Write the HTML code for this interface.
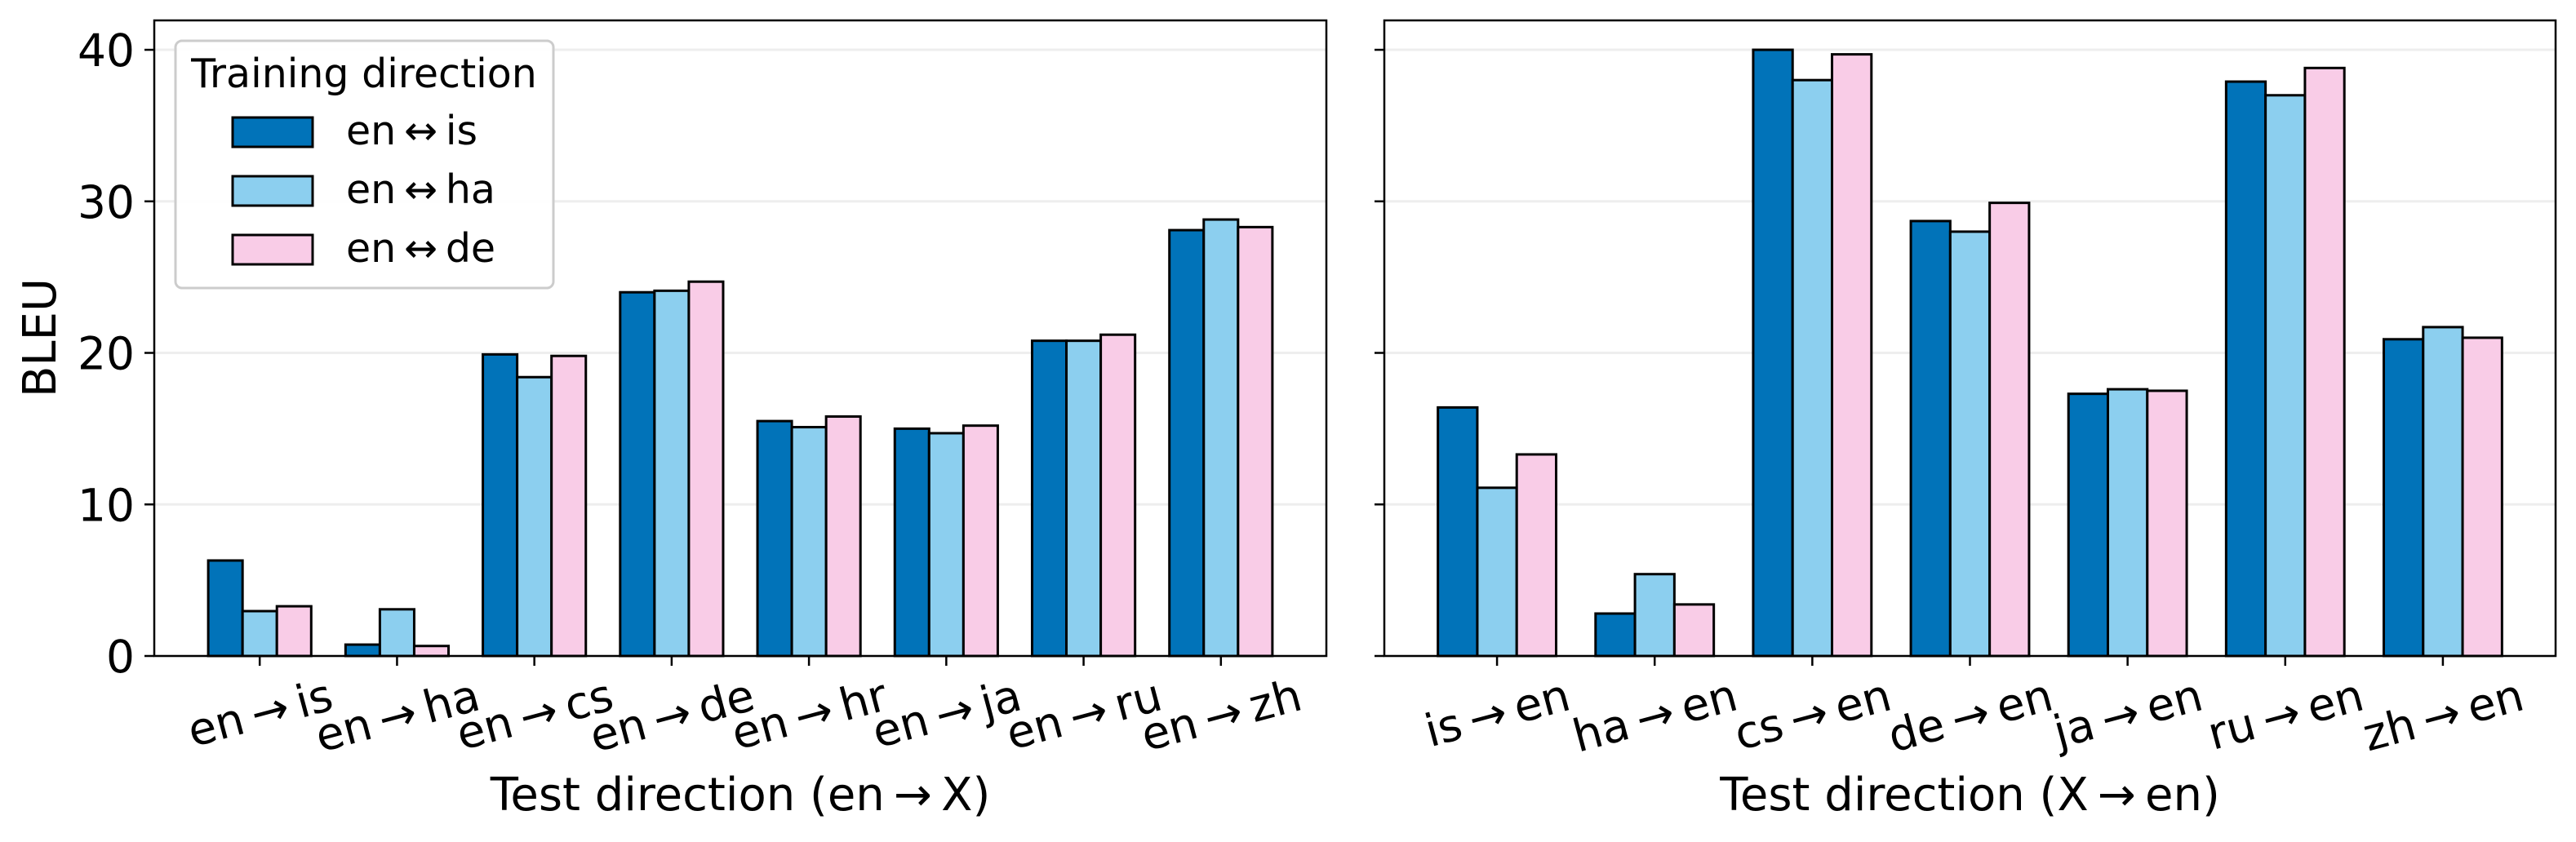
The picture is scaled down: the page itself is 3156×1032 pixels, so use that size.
<!DOCTYPE html>
<html><head><meta charset="utf-8"><style>
html,body{margin:0;padding:0;background:#fff;}
svg{display:block;font-family:"DejaVu Sans","Liberation Sans",sans-serif;}
</style></head><body>
<svg id="chart" width="3156" height="1032" viewBox="0 0 3156 1032" xmlns="http://www.w3.org/2000/svg">
<g id="grid"></g><g id="bars"></g><g id="frames"></g><g id="labels"></g>
</svg>
<script>
const leftCats = ["en\u2009\u2192\u2009is","en\u2009\u2192\u2009ha","en\u2009\u2192\u2009cs","en\u2009\u2192\u2009de","en\u2009\u2192\u2009hr","en\u2009\u2192\u2009ja","en\u2009\u2192\u2009ru","en\u2009\u2192\u2009zh"];
const rightCats = ["is\u2009\u2192\u2009en","ha\u2009\u2192\u2009en","cs\u2009\u2192\u2009en","de\u2009\u2192\u2009en","ja\u2009\u2192\u2009en","ru\u2009\u2192\u2009en","zh\u2009\u2192\u2009en"];
const seriesNames = ["en\u2009\u2194\u2009is","en\u2009\u2194\u2009ha","en\u2009\u2194\u2009de"];
const leftIs = [6.3,0.75,19.9,24.0,15.5,15.0,20.8,28.1];
const leftHa = [2.96,3.08,18.4,24.1,15.1,14.7,20.8,28.8];
const leftDe = [3.28,0.66,19.8,24.7,15.8,15.2,21.2,28.3];
const rightIs = [16.4,2.8,40.0,28.7,17.3,37.9,20.9];
const rightHa = [11.1,5.4,38.0,28.0,17.6,37.0,21.7];
const rightDe = [13.3,3.4,39.7,29.9,17.5,38.8,21.0];
const yTicks = [0,10,20,30,40];

const NS="http://www.w3.org/2000/svg";
const colors=["#0173B9","#8CCFEF","#F9CCE7"];
function mk(tag,attrs,parent){const e=document.createElementNS(NS,tag);for(const k in attrs)e.setAttribute(k,attrs[k]);parent.appendChild(e);return e;}
const gGrid=document.getElementById('grid'),gBars=document.getElementById('bars'),gFr=document.getElementById('frames'),gLab=document.getElementById('labels');
const yTop=25,yBot=804,yMax=41.94;
function yS(v){return yBot-(v/yMax)*(yBot-yTop);}
const panels=[
 {name:"left",x0:189,x1:1625,xmin:-0.768,xmax:7.768,cats:leftCats,data:[leftIs,leftHa,leftDe],title:"Test direction (en\u2009\u2192\u2009X)",labels:true},
 {name:"right",x0:1696,x1:3131,xmin:-0.715,xmax:6.715,cats:rightCats,data:[rightIs,rightHa,rightDe],title:"Test direction (X\u2009\u2192\u2009en)",labels:false}
];
panels.forEach(p=>{
 const xS=v=>p.x0+(v-p.xmin)/(p.xmax-p.xmin)*(p.x1-p.x0);
 const unit=(p.x1-p.x0)/(p.xmax-p.xmin);
 yTicks.forEach(t=>{
  const gl=mk('line',{x1:p.x0,x2:p.x1,y1:yS(t),y2:yS(t),stroke:"#eeeeee","stroke-width":3},gGrid);
  
  
  const tk=mk('line',{x1:p.x0-12,x2:p.x0,y1:yS(t),y2:yS(t),stroke:"#000","stroke-width":2.5},gFr);
  
  
  if(p.labels){
   const tl=mk('text',{x:p.x0-24,y:yS(t)+20,"text-anchor":"end","font-size":55},gLab);
   tl.textContent=t;
   
   
  }
 });
 p.cats.forEach((c,i)=>{
  p.data.forEach((arr,s)=>{
   const cx=xS(i+(s-1)*0.25);
   const w=unit*0.25;
   const r=mk('rect',{x:cx-w/2,y:yS(arr[i]),width:w,height:yBot-yS(arr[i]),fill:colors[s],stroke:"#000","stroke-width":3},gBars);
   
   
  });
  const tx=xS(i);
  const tk=mk('line',{x1:tx,x2:tx,y1:yBot,y2:yBot+12,stroke:"#000","stroke-width":2.5},gFr);
  
  
  const t=mk('text',{x:0,y:0,"text-anchor":"middle","font-size":55},gLab);
  t.textContent=c;
  
  
  const w=t.getComputedTextLength(),h=55*0.75;
  const a=15*Math.PI/180;
  const bh=w*Math.sin(a)+h*Math.cos(a);
  const cy=829+bh/2;
  t.setAttribute('transform','translate('+tx+','+cy+') rotate(-15) translate(0,'+(h/2)+')');
 });
 const fr=mk('rect',{x:p.x0,y:yTop,width:p.x1-p.x0,height:yBot-yTop,fill:"none",stroke:"#000","stroke-width":2.5},gFr);
 
 
 const xt=mk('text',{x:(p.x0+p.x1)/2,y:993,"text-anchor":"middle","font-size":56},gLab);
 xt.textContent=p.title;
 
 
});
const yl=mk('text',{x:0,y:0,"text-anchor":"middle","font-size":56,transform:"translate(68,414) rotate(-90)"},gLab);
yl.textContent="BLEU";


// legend
const lg=mk('g',{},gLab);


mk('rect',{x:215,y:50,width:463,height:303,rx:8,fill:"#fff","fill-opacity":0.9,stroke:"#cccccc","stroke-width":3},lg);
const lt=mk('text',{x:446,y:107,"text-anchor":"middle","font-size":49},lg);
lt.textContent="Training direction";


seriesNames.forEach((n,s)=>{
 const y=144+s*72;
 const pr=mk('rect',{x:285,y:y,width:98,height:36,fill:colors[s],stroke:"#000","stroke-width":3},lg);
 
 
 const tx=mk('text',{x:424,y:y+33,"font-size":49},lg);
 tx.textContent=n;
 
 
});
</script>
</body></html>
